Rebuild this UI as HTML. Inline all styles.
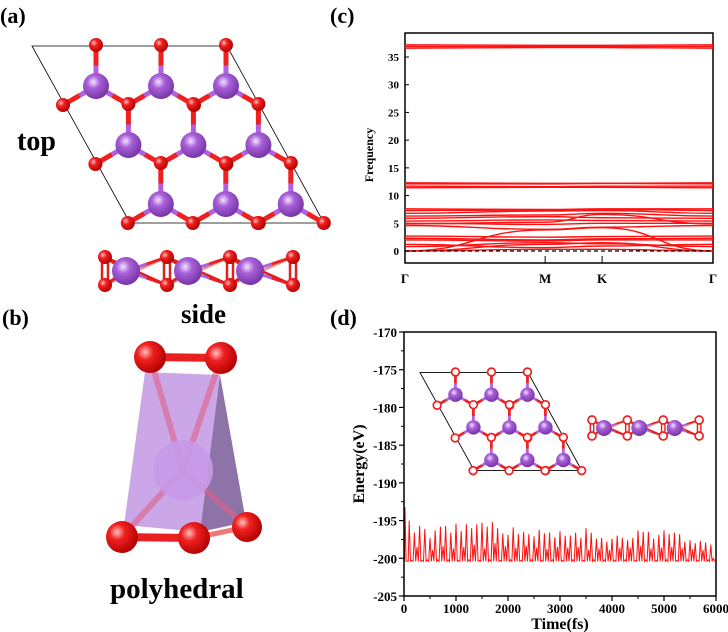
<!DOCTYPE html>
<html><head><meta charset="utf-8"><style>
body{margin:0;background:#fff;}
svg{display:block;font-family:"Liberation Serif",serif;}
</style></head><body>
<svg id="fig" width="728" height="632" viewBox="0 0 728 632" xmlns="http://www.w3.org/2000/svg">
<defs>
<radialGradient id="gO" cx="0.35" cy="0.35" r="0.7"><stop offset="0" stop-color="#ffc0c0"/><stop offset="0.35" stop-color="#f02020"/><stop offset="1" stop-color="#b00000"/></radialGradient>
<radialGradient id="gP" cx="0.4" cy="0.35" r="0.7"><stop offset="0" stop-color="#f4e4ff"/><stop offset="0.35" stop-color="#a860d8"/><stop offset="1" stop-color="#7030a0"/></radialGradient>
</defs>
<g font-weight="bold" fill="#000">
<text x="0" y="23" font-size="22">(a)</text>
<text x="17" y="150" font-size="28">top</text>
<text x="181" y="323" font-size="27">side</text>
<text x="2" y="325" font-size="22">(b)</text>
<text x="110" y="598" font-size="29">polyhedral</text>
<text x="330" y="23" font-size="22">(c)</text>
<text x="330" y="325" font-size="22">(d)</text>
</g>
<g id="topView"></g>
<g id="sideView"></g>
<g id="inset" transform="translate(456,372) scale(0.554) translate(-97,-45)"></g>
<g id="inset2" transform="translate(592,420) scale(0.57) translate(-105,-257)"></g>
<g>
<polygon points="145,372 220,375 200,532 124,525" fill="#b98ae0" fill-opacity="0.75"/>
<polygon points="220,375 246,522 200,532" fill="#7a5a9a" fill-opacity="0.85"/>
<line x1="150" y1="357" x2="183" y2="470" stroke="#e0608a" stroke-width="6" opacity="0.6"/>
<line x1="221" y1="358" x2="183" y2="470" stroke="#e0608a" stroke-width="6" opacity="0.6"/>
<line x1="122" y1="537" x2="183" y2="470" stroke="#e0608a" stroke-width="6" opacity="0.6"/>
<line x1="247" y1="527" x2="183" y2="470" stroke="#e0608a" stroke-width="6" opacity="0.6"/>
<circle cx="183" cy="470" r="30" fill="#c89ae8" opacity="0.9"/>
<line x1="150" y1="357" x2="221" y2="358" stroke="#e82020" stroke-width="8"/>
<line x1="122" y1="537" x2="194" y2="538" stroke="#e82020" stroke-width="8"/>
<line x1="194" y1="538" x2="247" y2="527" stroke="#e82020" stroke-width="5" opacity="0.6"/>
<circle cx="150" cy="357" r="16" fill="url(#gO)"/>
<circle cx="221" cy="358" r="16" fill="url(#gO)"/>
<circle cx="122" cy="537" r="16" fill="url(#gO)"/>
<circle cx="194" cy="538" r="16" fill="url(#gO)"/>
<circle cx="247" cy="527" r="15" fill="url(#gO)"/>
</g>
<g id="chartC"></g>
<g id="chartD"></g>
</svg>
<script>
// ---- phonon band data (c) ----
const kLabels = ["Γ","M","K","Γ"];
const kPos = [0, 0.455, 0.64, 1.0];
const bandsAtGamma1 = [0,0,0,2.0,2.3,2.7,1.2,0.8,4.6,5.0,5.4,5.9,6.3,6.8,7.3,7.6,4.9,11.4,11.7,12.1,12.3,36.6,36.9,37.2];
const bandsAtM      = [0.3,1.2,3.8,1.8,2.0,2.5,0.6,1.5,3.9,4.8,5.6,6.2,6.5,7.2,7.4,7.5,5.2,11.5,11.6,12.1,12.2,36.7,36.9,37.1];
const bandsAtK      = [0.3,1.5,4.2,2.0,2.2,2.6,0.9,1.3,4.3,5.0,5.5,6.0,6.8,7.3,7.5,7.6,6.6,11.5,11.7,12.2,12.2,36.7,36.9,37.1];
const bandsAtGamma2 = [0,0,0,2.0,2.3,2.7,1.2,0.8,4.6,5.0,5.4,5.9,6.3,6.8,7.3,7.6,4.9,11.4,11.7,12.1,12.3,36.6,36.9,37.2];
const freqTicks = [0,5,10,15,20,25,30,35];
// ---- MD energy data (d) ----
const mdTimes = [0,20,60,100,150,200,250,300,350,400,450,500,550,600,650,700,750,800,850,900,950,1000,1050,1100,1150,1200,1250,1300,1350,1400,1450,1500,1550,1600,1650,1700,1750,1800,1850,1900,1950,2000,2050,2100,2150,2200,2250,2300,2350,2400,2450,2500,2550,2600,2650,2700,2750,2800,2850,2900,2950,3000,3050,3100,3150,3200,3250,3300,3350,3400,3450,3500,3550,3600,3650,3700,3750,3800,3850,3900,3950,4000,4050,4100,4150,4200,4250,4300,4350,4400,4450,4500,4550,4600,4650,4700,4750,4800,4850,4900,4950,5000,5050,5100,5150,5200,5250,5300,5350,5400,5450,5500,5550,5600,5650,5700,5750,5800,5850,5900,5950,6000];
const mdEnergy = [-200.2,-193.2,-200.4,-195.0,-200.3,-196.6,-198.5,-195.7,-200.3,-196.1,-200.2,-197.3,-198.9,-196.3,-200.2,-195.8,-198.4,-195.7,-200.2,-196.6,-198.7,-195.4,-200.3,-196.4,-198.5,-195.5,-200.2,-196.0,-198.2,-195.5,-200.3,-195.3,-198.7,-195.8,-200.2,-195.2,-198.0,-196.0,-200.3,-196.7,-198.4,-196.9,-200.2,-195.9,-198.6,-196.8,-200.3,-196.5,-198.3,-196.8,-200.2,-197.1,-198.6,-196.2,-200.3,-196.7,-198.8,-196.6,-200.2,-197.2,-198.5,-196.4,-200.3,-197.0,-198.6,-197.0,-200.2,-196.6,-198.5,-197.3,-200.3,-196.0,-198.9,-196.6,-200.2,-197.4,-198.7,-197.3,-200.2,-197.8,-198.9,-197.4,-200.3,-197.0,-198.6,-197.3,-200.2,-197.6,-198.6,-197.3,-200.3,-196.3,-198.4,-196.5,-200.2,-196.5,-198.7,-197.4,-200.3,-196.9,-198.6,-196.3,-200.2,-196.8,-198.5,-196.6,-200.3,-196.8,-198.7,-197.8,-200.2,-197.6,-198.8,-198.0,-200.3,-197.7,-198.9,-197.9,-200.2,-198.2,-200.0];
const energyTicks = [-205,-200,-195,-190,-185,-180,-175,-170];
const timeTicks = [0,1000,2000,3000,4000,5000,6000];

const NS="http://www.w3.org/2000/svg";
function mk(parent,tag,attrs){const e=document.createElementNS(NS,tag);for(const k in attrs)e.setAttribute(k,attrs[k]);parent.appendChild(e);return e;}
function halfBond(g,x1,y1,x2,y2,w){const mx=(x1+x2)/2,my=(y1+y2)/2;
  mk(g,'line',{x1:x1,y1:y1,x2:mx,y2:my,stroke:"#b060e0","stroke-width":w});
  mk(g,'line',{x1:mx,y1:my,x2:x2,y2:y2,stroke:"#ee2020","stroke-width":w});}

function buildTop(g,smallO){
  const P=[],O=new Map(),bonds=[];
  for(let i=0;i<3;i++)for(let j=0;j<3;j++){
    const x=96+65*j+32.4*i,y=86+59*i;P.push([x,y]);
    [[0,-41],[-33,19],[33,19]].forEach(d=>{const ox=x+d[0],oy=y+d[1];O.set(Math.round(ox/4)+","+Math.round(oy/4),[ox,oy]);bonds.push([x,y,ox,oy]);});
  }
  mk(g,'polygon',{points:"32,46 227,46 324,223 130,223",fill:"none",stroke:"#000","stroke-width":smallO?1.6:0.8});
  bonds.forEach(b=>halfBond(g,b[0],b[1],b[2],b[3],5));
  O.forEach(o=>{const c=mk(g,'circle',{cx:o[0],cy:o[1],r:7,fill:smallO?"#fff":"url(#gO)",stroke:smallO?"#ee2020":"none","stroke-width":smallO?3:0});
    });
  P.forEach(p=>{const c=mk(g,'circle',{cx:p[0],cy:p[1],r:13,fill:"url(#gP)"});
    });
}
function buildSide(g,smallO){
  const ox=[105,167,230,293],px=[126,188,250];
  ox.forEach(x=>{mk(g,'line',{x1:x-3,y1:257,x2:x-3,y2:285,stroke:"#dd2020","stroke-width":2.5});
    mk(g,'line',{x1:x+3,y1:257,x2:x+3,y2:285,stroke:"#dd2020","stroke-width":2.5});});
  px.forEach((x,i)=>{
    [[ox[i],257],[ox[i],285]].forEach(o=>mk(g,'line',{x1:x,y1:271,x2:o[0],y2:o[1],stroke:"#dd2020","stroke-width":3}));
    [[ox[i+1],257],[ox[i+1],285]].forEach(o=>halfBond(g,x,271,o[0],o[1],3));
    mk(g,'line',{x1:ox[i],y1:257,x2:ox[i+1],y2:285,stroke:"#dd2020","stroke-width":2.5});
    mk(g,'line',{x1:ox[i],y1:285,x2:ox[i+1],y2:257,stroke:"#dd2020","stroke-width":2.5,opacity:0.5});
  });
  ox.forEach(x=>[257,285].forEach(y=>{const c=mk(g,'circle',{cx:x,cy:y,r:7,fill:smallO?"#fff":"url(#gO)",stroke:smallO?"#ee2020":"none","stroke-width":3});
    }));
  px.forEach(x=>{const c=mk(g,'circle',{cx:x,cy:271,r:14,fill:"url(#gP)"});
    });
}
buildTop(document.getElementById('topView'),false);
buildSide(document.getElementById('sideView'),false);
buildTop(document.getElementById('inset'),true);
buildSide(document.getElementById('inset2'),true);

// ---- chart c ----
(function(){
  const g=document.getElementById('chartC');
  const L=405,R=713,T=33,B=263;
  const xs=k=>L+k*(R-L);
  const ys=f=>251-f*(251-57)/35;
  mk(g,'rect',{x:L,y:T,width:R-L,height:B-T,fill:"none",stroke:"#000","stroke-width":1.5});
  freqTicks.forEach(t=>{
    mk(g,'line',{x1:L,y1:ys(t),x2:L+4,y2:ys(t),stroke:"#000"});
    const tx=mk(g,'text',{x:L-6,y:ys(t)+4,"font-size":11,"font-weight":"bold","text-anchor":"end"});tx.textContent=t;
    
  });
  const cols=[bandsAtGamma1,bandsAtM,bandsAtK,bandsAtGamma2];
  for(let b=0;b<bandsAtGamma1.length;b++){
    let d="M"+xs(kPos[0])+","+ys(cols[0][b]);
    for(let s=1;s<4;s++){const x0=xs(kPos[s-1]),x1=xs(kPos[s]),y0=ys(cols[s-1][b]),y1=ys(cols[s][b]),mx=(x0+x1)/2;
      d+=" C"+mx+","+y0+" "+mx+","+y1+" "+x1+","+y1;}
    const p=mk(g,'path',{d:d,fill:"none",stroke:"#ff1010","stroke-width":1.4});
    
  }
  mk(g,'line',{x1:L,y1:ys(0),x2:R,y2:ys(0),stroke:"#000","stroke-width":1.2,"stroke-dasharray":"4,3"});
  kLabels.forEach((k,i)=>{const x=xs(kPos[i]);
    if(i>0&&i<3)mk(g,'line',{x1:x,y1:B,x2:x,y2:B-7,stroke:"#000"});
    const tx=mk(g,'text',{x:x,y:283,"font-size":13,"font-weight":"bold","text-anchor":"middle"});tx.textContent=k;
    });
  const yl=mk(g,'text',{x:0,y:0,"font-size":12,"font-weight":"bold","text-anchor":"middle",transform:"translate(373,155) rotate(-90)"});yl.textContent="Frequency";
  
})();

// ---- chart d ----
(function(){
  const g=document.getElementById('chartD');
  const L=404,R=716,T=332,B=596;
  const xs=t=>L+t/6000*(R-L);
  const ys=e=>T+(-170-e)/35*(B-T);
  energyTicks.forEach(t=>{
    mk(g,'line',{x1:L,y1:ys(t),x2:L-5,y2:ys(t),stroke:"#000","stroke-width":1.2});
    if(t<-170)mk(g,'line',{x1:L,y1:ys(t+2.5),x2:L-3,y2:ys(t+2.5),stroke:"#000"});
    const tx=mk(g,'text',{x:L-7,y:ys(t)+5,"font-size":13,"font-weight":"bold","text-anchor":"end"});tx.textContent=t;
    });
  timeTicks.forEach(t=>{
    mk(g,'line',{x1:xs(t),y1:B,x2:xs(t),y2:B+5,stroke:"#000","stroke-width":1.2});
    if(t<6000)mk(g,'line',{x1:xs(t+500),y1:B,x2:xs(t+500),y2:B+3,stroke:"#000"});
    const tx=mk(g,'text',{x:xs(t),y:B+17,"font-size":13,"font-weight":"bold","text-anchor":"middle"});tx.textContent=t;
    });
  let d="";
  mdTimes.forEach((t,i)=>{d+=(i?" L":"M")+xs(t).toFixed(1)+","+ys(mdEnergy[i]).toFixed(1);
    if(i<mdTimes.length-1){const tm=(t+mdTimes[i+1])/2;d+=" L"+xs(tm).toFixed(1)+","+ys(-200.4).toFixed(1);}});
  const p=mk(g,'path',{d:d,fill:"none",stroke:"#ff1010","stroke-width":1});
  
  mk(g,'rect',{x:L,y:T,width:R-L,height:B-T,fill:"none",stroke:"#000","stroke-width":1.5});
  const xl=mk(g,'text',{x:(L+R)/2,y:629,"font-size":16,"font-weight":"bold","text-anchor":"middle"});xl.textContent="Time(fs)";
  
  const yl=mk(g,'text',{x:0,y:0,"font-size":16,"font-weight":"bold","text-anchor":"middle",transform:"translate(364,464) rotate(-90)"});yl.textContent="Energy(eV)";
  
})();
</script>
</body></html>
